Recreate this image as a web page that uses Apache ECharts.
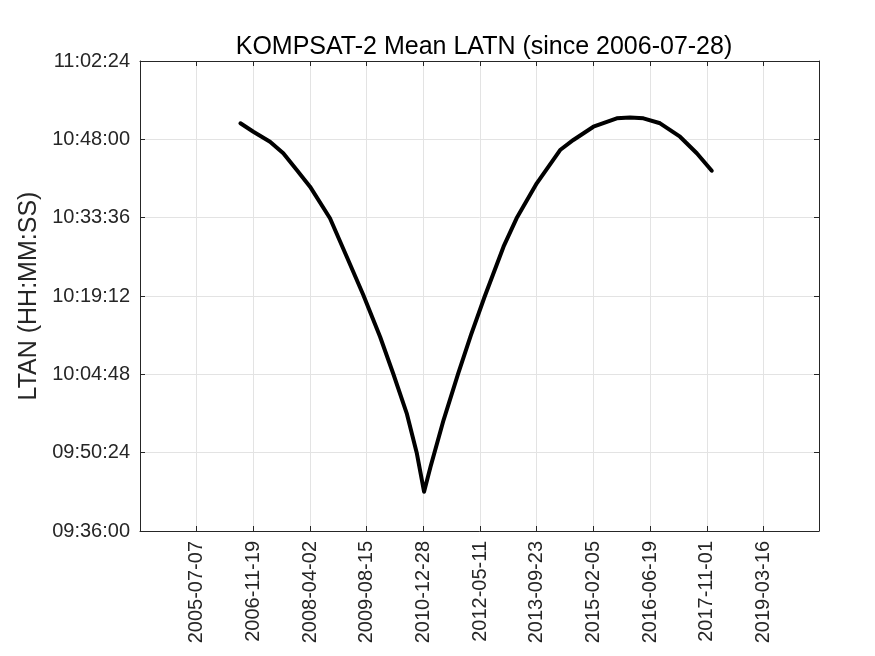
<!DOCTYPE html>
<html>
<head>
<meta charset="utf-8">
<script src="https://cdn.jsdelivr.net/npm/echarts@6/dist/echarts.min.js"></script>
<style>html,body{margin:0;padding:0;background:#fff}#c{width:875px;height:656px}</style>
</head>
<body>
<div id="c"></div>
<script>
// ---- data ----
const titleText = 'KOMPSAT-2 Mean LATN (since 2006-07-28)';
const yName = 'LTAN (HH:MM:SS)';
const baseDate = '2004-02-23';      // x axis origin (day 0)
const xSpanDays = 5990;             // x axis length in days
const xStepDays = 500;              // tick spacing in days
const yMinTime = '09:36:00';
const yMaxTime = '11:02:24';
const yStepTime = '00:14:24';

const dates = [
  '2006-07-28','2006-11-19','2007-04-15','2007-08-10','2007-12-07','2008-04-02',
  '2008-09-25','2009-02-20','2009-07-16','2009-12-11','2010-04-07','2010-08-03',
  '2010-10-30','2011-01-03','2011-03-01','2011-06-24','2011-10-30','2012-02-21',
  '2012-06-20','2012-12-04','2013-03-29','2013-09-23','2014-04-17','2014-08-12',
  '2015-02-05','2015-08-30','2015-12-25','2016-04-21','2016-09-15','2017-03-10',
  '2017-08-05','2017-12-15'
];
const ltan = [
  '10:50:57','10:49:24','10:47:34','10:45:26','10:42:22','10:39:18',
  '10:33:29','10:26:25','10:19:23','10:11:43','10:04:52','09:57:38',
  '09:50:24','09:43:13','09:47:49','09:56:24','10:04:52','10:12:02',
  '10:19:04','10:28:16','10:33:29','10:39:55','10:46:02','10:47:53',
  '10:50:19','10:51:52','10:52:01','10:51:52','10:50:57','10:48:29',
  '10:45:26','10:42:14'
];

// ---- helpers ----
function toSec(t){const p=t.split(':').map(Number);return p[0]*3600+p[1]*60+p[2];}
function fmtSec(s){s=Math.round(s);const h=Math.floor(s/3600),m=Math.floor((s%3600)/60),x=s%60;
  return [h,m,x].map(v=>String(v).padStart(2,'0')).join(':');}
function dayUTC(d){const p=d.split('-').map(Number);return Date.UTC(p[0],p[1]-1,p[2])/86400000;}
const base = dayUTC(baseDate);
function fmtDay(v){const dt=new Date((base+v)*86400000);
  return dt.getUTCFullYear()+'-'+String(dt.getUTCMonth()+1).padStart(2,'0')+'-'+String(dt.getUTCDate()).padStart(2,'0');}

const seriesData = dates.map((d,i)=>[dayUTC(d)-base, toSec(ltan[i])]);

const axisColor = '#262626';
const gridColor = '#e3e3e3';
const fontFam = '"Liberation Sans", Arial, Helvetica, sans-serif';

const xCommon = {
  type:'value', min:0, max:xSpanDays, interval:xStepDays,
  axisLine:{show:true,onZero:false,lineStyle:{color:axisColor,width:1}},
  axisTick:{show:true,inside:true,length:5,lineStyle:{color:axisColor}},
};
const yCommon = {
  type:'value', min:toSec(yMinTime), max:toSec(yMaxTime), interval:toSec(yStepTime),
  axisLine:{show:true,onZero:false,lineStyle:{color:axisColor,width:1}},
  axisTick:{show:true,inside:true,length:5,lineStyle:{color:axisColor}},
};

const chart = echarts.init(document.getElementById('c'), null, {renderer:'canvas'});
chart.setOption({
  backgroundColor:'#ffffff',
  animation:false,
  title:{text:titleText,left:479,top:30,textAlign:'center',
    textStyle:{fontFamily:fontFam,fontSize:25,fontWeight:'normal',color:'#000'}},
  grid:{left:140,right:56,top:61,bottom:125,containLabel:false},
  xAxis:[
    Object.assign({}, xCommon, {position:'bottom',
      splitLine:{show:true,lineStyle:{color:gridColor,width:1}},
      axisLabel:{show:true,rotate:90,margin:10,color:axisColor,fontFamily:fontFam,fontSize:20,
        showMaxLabel:false,showMinLabel:false,
        formatter:v=> (v%xStepDays===0 && v>0 && v<xSpanDays) ? fmtDay(v) : ''}}),
    Object.assign({}, xCommon, {position:'top',splitLine:{show:false},axisLabel:{show:false}})
  ],
  yAxis:[
    Object.assign({}, yCommon, {position:'left',
      name:yName,nameLocation:'middle',nameGap:97,
      nameTextStyle:{fontFamily:fontFam,fontSize:25,color:axisColor},
      splitLine:{show:true,lineStyle:{color:gridColor,width:1}},
      axisLabel:{show:true,margin:10,color:axisColor,fontFamily:fontFam,fontSize:20,formatter:v=>fmtSec(v)}}),
    Object.assign({}, yCommon, {position:'right',splitLine:{show:false},axisLabel:{show:false}})
  ],
  series:[{
    type:'line', xAxisIndex:0, yAxisIndex:0, data:seriesData,
    showSymbol:false, symbol:'none', smooth:false,
    lineStyle:{color:'#000000',width:4,cap:'round',join:'round'}
  }]
});
</script>
</body>
</html>
